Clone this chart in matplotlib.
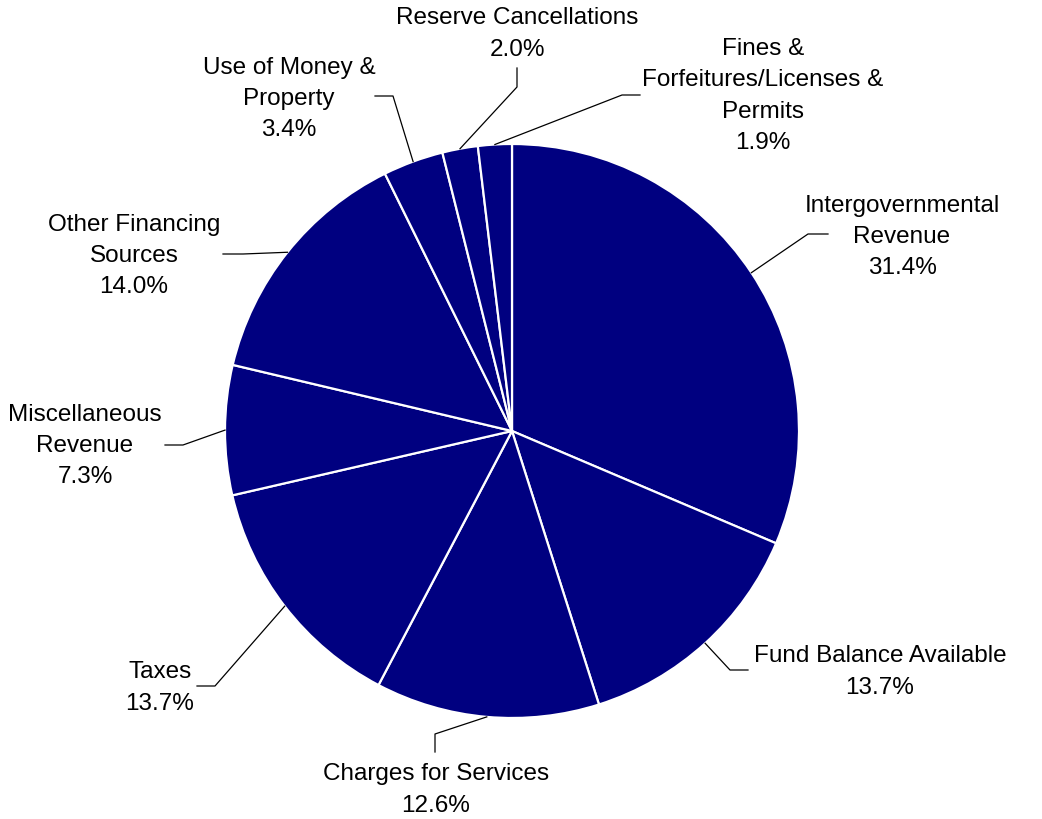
import numpy as np
import matplotlib.pyplot as plt

plt.rcParams['font.family'] = ['Liberation Sans', 'DejaVu Sans']

categories = ['Intergovernmental\nRevenue', 'Fund Balance Available', 'Charges for Services',
              'Taxes', 'Miscellaneous\nRevenue', 'Other Financing\nSources',
              'Use of Money &\nProperty', 'Reserve Cancellations',
              'Fines &\nForfeitures/Licenses &\nPermits']
shares = [31.4, 13.7, 12.6, 13.7, 7.3, 14.0, 3.4, 2.0, 1.9]

# layout in pixels (y downward): label block centres and leader elbow/end points
label_pos = [(902, 237), (880, 672), (436, 790), (160, 688), (85, 446),
             (134, 256), (289, 99), (517, 34), (763, 96)]
elbows = [(808, 235), (730, 671), (435, 735), (215, 687), (183, 446),
          (243, 255), (393, 97), (517, 88), (622, 96)]
ends = [(828, 235), (748, 671), (435, 753), (197, 687), (165, 446),
        (223, 255), (375, 97), (517, 69), (640, 96)]

cx, cy, r = 512, 432, 287

fig = plt.figure(figsize=(10.42, 8.2), dpi=100)
ax = fig.add_axes([0, 0, 1, 1])

# y axis is inverted, so counterclockwise in data = clockwise on screen
ax.pie(shares, colors=['#000080'] * len(shares), startangle=-90, counterclock=True,
       center=(cx, cy), radius=r,
       wedgeprops=dict(edgecolor='white', linewidth=1.6))

ax.set_xlim(0, 1042)
ax.set_ylim(820, 0)
ax.set_aspect('equal')
ax.axis('off')

cum = np.cumsum([0] + shares)
for i, (name, val) in enumerate(zip(categories, shares)):
    mid = np.deg2rad((cum[i] + val / 2) / 100 * 360)
    sx = cx + r * np.sin(mid)
    sy = cy - r * np.cos(mid)
    ex, ey = elbows[i]
    fx, fy = ends[i]
    ax.plot([sx, ex, fx], [sy, ey, fy], color='black', lw=0.9)
    lx, ly = label_pos[i]
    ax.text(lx, ly, f'{name}\n{val:.1f}%', ha='center', va='center',
            fontsize=17.5, linespacing=1.53, color='black')

fig.savefig('out.png', dpi=100)
